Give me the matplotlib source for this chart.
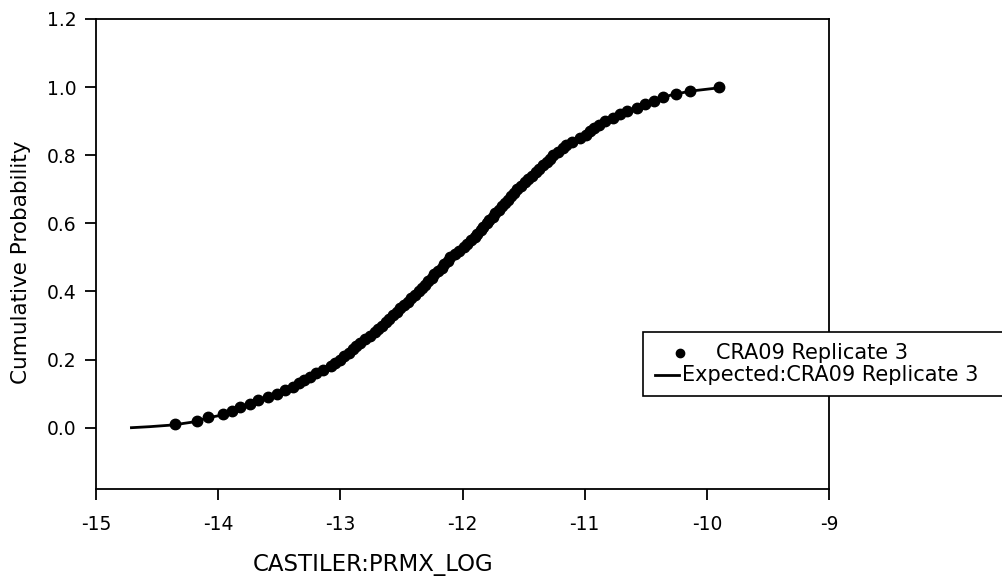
import matplotlib
matplotlib.use("Agg")
import matplotlib.pyplot as plt
from matplotlib.lines import Line2D
from matplotlib.patches import Rectangle

# ---- data ----
sample_x = [
    -14.35, -14.17, -14.08, -13.96, -13.89, -13.82, -13.74, -13.67, -13.59, -13.52,
    -13.45, -13.39, -13.34, -13.30, -13.25, -13.20, -13.14, -13.08, -13.04, -13.00,
    -12.97, -12.93, -12.90, -12.87, -12.84, -12.80, -12.76, -12.72, -12.69, -12.66,
    -12.63, -12.60, -12.57, -12.54, -12.51, -12.48, -12.45, -12.42, -12.39, -12.36,
    -12.33, -12.31, -12.28, -12.25, -12.23, -12.20, -12.17, -12.15, -12.12, -12.10,
    -12.06, -12.03, -11.99, -11.96, -11.93, -11.90, -11.88, -11.85, -11.83, -11.80,
    -11.78, -11.75, -11.73, -11.70, -11.68, -11.65, -11.63, -11.60, -11.58, -11.55,
    -11.52, -11.49, -11.46, -11.43, -11.40, -11.37, -11.34, -11.31, -11.28, -11.26,
    -11.22, -11.18, -11.15, -11.10, -11.04, -10.99, -10.96, -10.92, -10.88, -10.83,
    -10.77, -10.71, -10.65, -10.57, -10.51, -10.43, -10.36, -10.25, -10.14, -9.90,
]
sample_p = [
    0.01, 0.02, 0.03, 0.04, 0.05, 0.06, 0.07, 0.08, 0.09, 0.10,
    0.11, 0.12, 0.13, 0.14, 0.15, 0.16, 0.17, 0.18, 0.19, 0.20,
    0.21, 0.22, 0.23, 0.24, 0.25, 0.26, 0.27, 0.28, 0.29, 0.30,
    0.31, 0.32, 0.33, 0.34, 0.35, 0.36, 0.37, 0.38, 0.39, 0.40,
    0.41, 0.42, 0.43, 0.44, 0.45, 0.46, 0.47, 0.48, 0.49, 0.50,
    0.51, 0.52, 0.53, 0.54, 0.55, 0.56, 0.57, 0.58, 0.59, 0.60,
    0.61, 0.62, 0.63, 0.64, 0.65, 0.66, 0.67, 0.68, 0.69, 0.70,
    0.71, 0.72, 0.73, 0.74, 0.75, 0.76, 0.77, 0.78, 0.79, 0.80,
    0.81, 0.82, 0.83, 0.84, 0.85, 0.86, 0.87, 0.88, 0.89, 0.90,
    0.91, 0.92, 0.93, 0.94, 0.95, 0.96, 0.97, 0.98, 0.99, 1.00,
]
expected_x = [-14.71, -14.56, -14.37, -14.18, -14.10, -13.97, -13.86, -13.74, -13.58,
              -13.44, -13.32, -13.19, -13.06, -12.92, -12.84, -12.70, -12.57, -12.43,
              -12.35, -12.22, -12.10, -11.97, -11.83, -11.69, -11.56, -11.42, -11.28,
              -11.15, -11.01, -10.88, -10.71, -10.58, -10.44, -10.30, -10.14, -9.90]
expected_p = [0.000, 0.003, 0.008, 0.018, 0.028, 0.037, 0.054, 0.070, 0.091,
              0.111, 0.135, 0.162, 0.184, 0.224, 0.250, 0.287, 0.331, 0.376,
              0.405, 0.452, 0.498, 0.537, 0.591, 0.645, 0.699, 0.743, 0.792,
              0.831, 0.856, 0.890, 0.920, 0.939, 0.959, 0.976, 0.988, 0.998]
x_ticks = [-15, -14, -13, -12, -11, -10, -9]
y_ticks = [0.0, 0.2, 0.4, 0.6, 0.8, 1.0, 1.2]
series_label = "CRA09 Replicate 3"
expected_label = "Expected:CRA09 Replicate 3"

W, H = 1002, 577
plt.rcParams['font.family'] = ['DejaVu Sans']
fig = plt.figure(figsize=(W / 100, H / 100), dpi=100)

def fx(px):
    return px / W

def fy(py):
    return 1 - py / H

ax = fig.add_axes([fx(96), fy(489), fx(829) - fx(96), fy(19) - fy(489)])
ax.plot(expected_x, expected_p, color='black', lw=2.0, zorder=2)
ax.plot(sample_x, sample_p, 'o', color='black', ms=7.5, zorder=3)

ax.set_xlim(-15, -9)
ax.set_ylim(-0.18, 1.2)
ax.set_xticks(x_ticks)
ax.set_xticklabels([f"{t:d}" for t in x_ticks])
ax.set_yticks(y_ticks)
ax.set_yticklabels([f"{t:.1f}" for t in y_ticks])
ax.tick_params(axis='both', direction='out', length=8, width=1.3, labelsize=13.5,
               top=False, right=False)
ax.tick_params(axis='x', pad=11)
ax.tick_params(axis='y', pad=6)
for s in ax.spines.values():
    s.set_linewidth(1.3)

fig.text(fx(373), fy(565), "CASTILER:PRMX_LOG", ha='center', va='center', fontsize=16.5)
fig.text(fx(21), fy(262), "Cumulative Probability", ha='center', va='center',
         rotation=90, fontsize=15.5)

# ---- legend (drawn manually, box runs off the right edge) ----
fig.patches.append(Rectangle((fx(643), fy(396)), fx(1010) - fx(643), fy(332) - fy(396),
                             transform=fig.transFigure, facecolor='white',
                             edgecolor='black', lw=1.2, zorder=5))
fig.lines.append(Line2D([fx(680)], [fy(353)], marker='o', color='black', ms=6,
                        transform=fig.transFigure, zorder=6))
fig.lines.append(Line2D([fx(655), fx(679)], [fy(375), fy(375)], color='black', lw=2.0,
                        transform=fig.transFigure, zorder=6))
fig.text(fx(716), fy(353), series_label, ha='left', va='center', fontsize=15, zorder=7)
fig.text(fx(682), fy(375), expected_label, ha='left', va='center', fontsize=15, zorder=7)

fig.savefig("out.png", dpi=100)
